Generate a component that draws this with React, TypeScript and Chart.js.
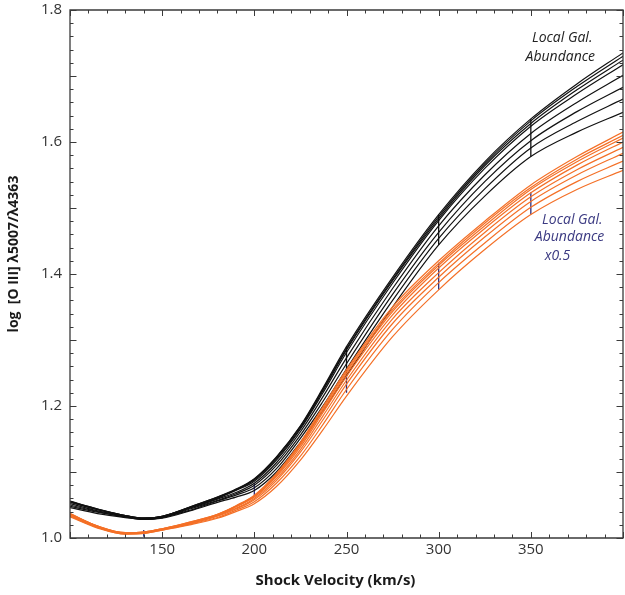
import React, { useEffect, useRef } from 'react';
import { Chart, registerables } from 'chart.js';
Chart.register(...registerables);

// Shock velocity grid (km/s)
const velocities = [100, 115, 130, 140, 150, 165, 180, 190, 200, 212, 225, 237, 250, 275, 300, 325, 350, 375, 400];

// Local Galactic abundance models (black)
const localGal1 = [1.056, 1.044, 1.034, 1.030, 1.033, 1.047, 1.062, 1.074, 1.090, 1.123, 1.170, 1.226, 1.290, 1.395, 1.490, 1.570, 1.635, 1.688, 1.735];
const localGal2 = [1.055, 1.044, 1.034, 1.030, 1.033, 1.047, 1.062, 1.073, 1.089, 1.122, 1.169, 1.224, 1.287, 1.392, 1.487, 1.567, 1.632, 1.684, 1.730];
const localGal3 = [1.055, 1.043, 1.034, 1.030, 1.033, 1.046, 1.061, 1.073, 1.088, 1.120, 1.167, 1.222, 1.285, 1.390, 1.484, 1.564, 1.628, 1.679, 1.724];
const localGal4 = [1.054, 1.043, 1.033, 1.030, 1.032, 1.046, 1.060, 1.072, 1.086, 1.118, 1.165, 1.219, 1.281, 1.386, 1.481, 1.560, 1.624, 1.673, 1.717];
const localGal5 = [1.052, 1.041, 1.033, 1.029, 1.032, 1.045, 1.059, 1.069, 1.083, 1.114, 1.161, 1.213, 1.273, 1.378, 1.473, 1.550, 1.613, 1.660, 1.701];
const localGal6 = [1.050, 1.040, 1.032, 1.029, 1.031, 1.044, 1.057, 1.067, 1.080, 1.110, 1.156, 1.206, 1.264, 1.369, 1.463, 1.540, 1.602, 1.646, 1.683];
const localGal7 = [1.048, 1.039, 1.032, 1.028, 1.031, 1.042, 1.056, 1.065, 1.076, 1.105, 1.151, 1.199, 1.256, 1.360, 1.454, 1.529, 1.591, 1.631, 1.665];
const localGal8 = [1.046, 1.037, 1.031, 1.028, 1.030, 1.041, 1.054, 1.062, 1.072, 1.100, 1.145, 1.192, 1.246, 1.350, 1.444, 1.518, 1.578, 1.615, 1.645];

// Local Galactic abundance x0.5 models (orange)
const halfGal1 = [1.037, 1.018, 1.008, 1.009, 1.014, 1.024, 1.036, 1.049, 1.065, 1.098, 1.145, 1.198, 1.255, 1.350, 1.420, 1.480, 1.535, 1.578, 1.615];
const halfGal2 = [1.037, 1.018, 1.008, 1.009, 1.014, 1.024, 1.036, 1.048, 1.064, 1.096, 1.143, 1.195, 1.252, 1.346, 1.416, 1.477, 1.531, 1.574, 1.610];
const halfGal3 = [1.036, 1.018, 1.008, 1.009, 1.014, 1.023, 1.035, 1.048, 1.063, 1.095, 1.141, 1.192, 1.249, 1.343, 1.413, 1.473, 1.528, 1.570, 1.606];
const halfGal4 = [1.036, 1.017, 1.007, 1.008, 1.013, 1.023, 1.034, 1.047, 1.062, 1.093, 1.138, 1.189, 1.245, 1.338, 1.409, 1.469, 1.523, 1.565, 1.600];
const halfGal5 = [1.035, 1.017, 1.007, 1.008, 1.013, 1.022, 1.034, 1.045, 1.060, 1.090, 1.134, 1.184, 1.239, 1.332, 1.402, 1.463, 1.517, 1.558, 1.592];
const halfGal6 = [1.034, 1.016, 1.007, 1.008, 1.013, 1.022, 1.033, 1.044, 1.058, 1.087, 1.130, 1.178, 1.233, 1.325, 1.395, 1.456, 1.510, 1.550, 1.583];
const halfGal7 = [1.033, 1.016, 1.006, 1.007, 1.012, 1.021, 1.031, 1.042, 1.055, 1.083, 1.124, 1.171, 1.225, 1.316, 1.387, 1.447, 1.501, 1.540, 1.571];
const halfGal8 = [1.032, 1.015, 1.006, 1.007, 1.012, 1.020, 1.030, 1.040, 1.052, 1.078, 1.118, 1.163, 1.215, 1.305, 1.376, 1.437, 1.490, 1.528, 1.557];

// Vertical range markers
const blackBarX = [250, 300, 350];
const blackBarLow = [1.246, 1.444, 1.578];
const blackBarHigh = [1.290, 1.490, 1.635];
const blueBarX = [140, 200, 250, 300, 350];
const blueBarLow = [1.002, 1.065, 1.220, 1.376, 1.490];
const blueBarHigh = [1.012, 1.083, 1.250, 1.417, 1.524];

// Axis ranges
const xTickMin = 100;
const xTickMax = 400;
const yTickMin = 1.0;
const yTickMax = 1.8;

const localGalSeries = [localGal1, localGal2, localGal3, localGal4, localGal5, localGal6, localGal7, localGal8];
const halfGalSeries = [halfGal1, halfGal2, halfGal3, halfGal4, halfGal5, halfGal6, halfGal7, halfGal8];

const BLACK = '#111111';
const ORANGE = '#f47027';
const NAVY = '#2f2f7c';
const TEXT_NAVY = '#3b3a82';
const AXIS = '#3a3a3a';
const FONT = "'Open Sans', 'DejaVu Sans', sans-serif";

const decorPlugin = {
  id: 'decor',
  afterDatasetsDraw(chart: any) {
    const { ctx, chartArea: a, scales } = chart;
    const x = scales.x;
    const y = scales.y;
    ctx.save();
    ctx.strokeStyle = AXIS;
    ctx.lineWidth = 1.3;
    ctx.beginPath();
    ctx.rect(a.left, a.top, a.right - a.left, a.bottom - a.top);
    ctx.stroke();
    ctx.lineWidth = 1;
    ctx.beginPath();
    for (let v = xTickMin; v <= xTickMax; v += 10) {
      const px = Math.round(x.getPixelForValue(v)) + 0.5;
      const len = v % 50 === 0 ? 6 : 3.5;
      ctx.moveTo(px, a.bottom);
      ctx.lineTo(px, a.bottom - len);
      ctx.moveTo(px, a.top);
      ctx.lineTo(px, a.top + len);
    }
    for (let i = 0; i <= 40; i++) {
      const v = yTickMin + i * 0.02;
      const py = Math.round(y.getPixelForValue(v)) + 0.5;
      const len = i % 5 === 0 ? 6.5 : 3.5;
      ctx.moveTo(a.left, py);
      ctx.lineTo(a.left + len, py);
      ctx.moveTo(a.right, py);
      ctx.lineTo(a.right - len, py);
    }
    ctx.stroke();

    // annotations
    ctx.textAlign = 'center';
    ctx.textBaseline = 'middle';
    ctx.font = `italic 14px ${FONT}`;
    ctx.fillStyle = '#222222';
    ctx.fillText('Local Gal.', x.getPixelForValue(367), y.getPixelForValue(1.757));
    ctx.fillText('Abundance', x.getPixelForValue(366), y.getPixelForValue(1.729));
    ctx.fillStyle = TEXT_NAVY;
    ctx.fillText('Local Gal.', x.getPixelForValue(372.5), y.getPixelForValue(1.482));
    ctx.fillText('Abundance', x.getPixelForValue(371), y.getPixelForValue(1.456));
    ctx.textAlign = 'left';
    ctx.fillText('x0.5', x.getPixelForValue(357.5), y.getPixelForValue(1.427));

    // axis titles
    ctx.fillStyle = '#1a1a1a';
    ctx.font = `bold 15px ${FONT}`;
    ctx.textAlign = 'center';
    ctx.fillText('Shock Velocity (km/s)', (a.left + a.right) / 2 - 11, 581);
    ctx.save();
    ctx.translate(14, 254);
    ctx.rotate(-Math.PI / 2);
    ctx.font = `bold 14px ${FONT}`;
    ctx.fillText('log  [O III] λ5007/λ4363', 0, 0);
    ctx.restore();
    ctx.restore();
  },
};

export default function App() {
  const canvasRef = useRef<HTMLCanvasElement | null>(null);

  useEffect(() => {
    if (!canvasRef.current) return;
    const lineDs = (vals: number[], color: string) => ({
      data: velocities.map((v, i) => ({ x: v, y: vals[i] })),
      borderColor: color,
      borderWidth: 1.2,
      pointRadius: 0,
      fill: false,
      cubicInterpolationMode: 'monotone' as const,
    });
    const barDs = (xv: number, lo: number, hi: number, color: string) => ({
      data: [{ x: xv, y: lo }, { x: xv, y: hi }],
      borderColor: color,
      borderWidth: 1.3,
      pointRadius: 0,
      fill: false,
    });
    const datasets: any[] = [];
    halfGalSeries.forEach((s) => datasets.push(lineDs(s, ORANGE)));
    localGalSeries.forEach((s) => datasets.push(lineDs(s, BLACK)));
    blackBarX.forEach((xv, i) => datasets.push(barDs(xv, blackBarLow[i], blackBarHigh[i], BLACK)));
    blueBarX.forEach((xv, i) => datasets.push(barDs(xv, blueBarLow[i], blueBarHigh[i], NAVY)));

    const chart = new Chart(canvasRef.current, {
      type: 'line',
      data: { datasets },
      options: {
        animation: false,
        responsive: false,
        devicePixelRatio: 1,
        layout: { padding: { top: 10, right: 2, left: 0, bottom: 0 } },
        plugins: { legend: { display: false }, tooltip: { enabled: false } },
        scales: {
          x: {
            type: 'linear',
            min: xTickMin,
            max: xTickMax,
            grid: { display: false, drawTicks: false },
            border: { display: false },
            ticks: {
              stepSize: 50,
              autoSkip: false,
              maxRotation: 0,
              padding: 3,
              color: '#333333',
              font: { family: FONT, size: 15 },
              callback: (v: any) => (v === xTickMin || v === xTickMax ? null : String(v)),
            },
            afterFit: (s: any) => {
              s.height = 57;
              s.paddingLeft = 0;
              s.paddingRight = 0;
            },
          },
          y: {
            type: 'linear',
            min: yTickMin,
            max: yTickMax,
            grid: { display: false, drawTicks: false },
            border: { display: false },
            ticks: {
              stepSize: 0.2,
              padding: 8,
              color: '#333333',
              font: { family: FONT, size: 15 },
              callback: (v: any) => Number(v).toFixed(1),
            },
            afterFit: (s: any) => {
              s.width = 70;
              s.paddingTop = 0;
              s.paddingBottom = 0;
            },
          },
        },
      },
      plugins: [decorPlugin],
    });
    return () => chart.destroy();
  }, []);

  return (
    <div style={{ position: 'absolute', left: 0, top: 0, width: 625, height: 595, background: '#fff' }}>
      <canvas ref={canvasRef} width={625} height={595} style={{ display: 'block' }} />
    </div>
  );
}
